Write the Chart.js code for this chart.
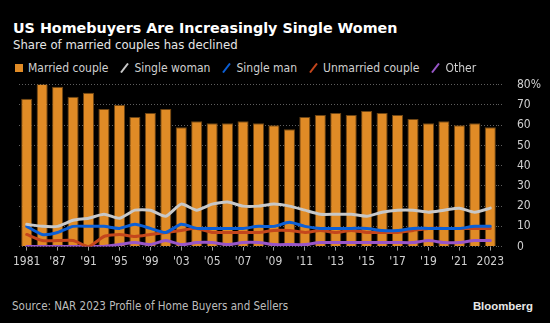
<!DOCTYPE html>
<html>
<head>
<meta charset="utf-8">
<script src="https://cdn.jsdelivr.net/npm/chart.js@4"></script>
<style>
  body { margin: 0; background: #000; width: 550px; height: 323px; position: relative; overflow: hidden; }
  .txt { position: absolute; white-space: nowrap; line-height: 1; }
  #title { left: 13px; top: 19.6px; font: bold 14.3px 'DejaVu Sans', sans-serif; color: #fff; }
  #subtitle { left: 13px; top: 36.7px; font: 13px 'DejaVu Sans Condensed', 'DejaVu Sans', sans-serif; color: #e6e6e6; }
  #legend { position: absolute; left: 15px; top: 62px; display: flex; align-items: center;
            font: 12px 'DejaVu Sans Condensed', 'DejaVu Sans', sans-serif; color: #d0d0d0; line-height: 12px; }
  #legend .item { display: flex; align-items: center; margin-right: 12px; }
  #legend .box { width: 8px; height: 8px; margin-right: 5px; }
  #legend canvas { margin-right: 5px; }
  #source { left: 12px; top: 299px; font: 11.5px 'DejaVu Sans Condensed', 'DejaVu Sans', sans-serif; color: #bdbdbd; }
  #brand { right: 17px; top: 299.5px; font: bold 11.4px 'Liberation Sans', Arial, sans-serif; color: #e8e8e8; }
  #wrap { position: absolute; left: 0; top: 76px; width: 550px; height: 197px; }
</style>
</head>
<body>
<div id="title" class="txt">US Homebuyers Are Increasingly Single Women</div>
<div id="subtitle" class="txt">Share of married couples has declined</div>
<div id="legend"></div>
<div id="wrap"><canvas id="chart" width="550" height="197"></canvas></div>
<div id="source" class="txt">Source: NAR 2023 Profile of Home Buyers and Sellers</div>
<div id="brand" class="txt">Bloomberg</div>

<script>
// survey years (before 2003 the survey was not yearly)
var years = ['1981', '1985', '1987', '1989', '1991', '1993', '1995', '1997', '1999', '2001',
             '2003', '2004', '2005', '2006', '2007', '2008', '2009', '2010', '2011', '2012',
             '2013', '2014', '2015', '2016', '2017', '2018', '2019', '2020', '2021', '2022', '2023'];

// shares in %
var marriedCouple   = [73, 81, 79, 74, 76, 68, 70, 64, 66, 68, 59, 62, 61, 61, 62, 61, 60, 58, 64, 65, 66, 65, 67, 66, 65, 63, 61, 62, 60, 61, 59];
var singleWoman     = [11, 10, 10, 13, 14, 16, 14, 18, 18, 15, 21, 18, 21, 22, 20, 20, 21, 20, 18, 16, 16, 16, 15, 17, 18, 18, 17, 18, 19, 17, 19];
var singleMan       = [10, 6, 7, 10, 10, 10, 9, 11, 9, 7, 11, 9, 9, 9, 9, 10, 10, 12, 10, 9, 9, 9, 9, 8, 8, 9, 9, 9, 9, 10, 10];
var unmarriedCouple = [6, 3, 3, 3, 0, 5, 6, 5, 6, 7, 8, 9, 7, 7, 7, 7, 8, 8, 7, 8, 7, 8, 7, 7, 7, 8, 9, 9, 9, 9, 9];
var other           = [0, 0, 0, 0, 0, 0, 1, 2, 1, 3, 1, 2, 2, 1, 2, 2, 1, 1, 1, 2, 2, 2, 2, 2, 2, 2, 3, 2, 2, 3, 3];

var yTicks = [0, 10, 20, 30, 40, 50, 60, 70, 80];

var FONT = "'DejaVu Sans Condensed', 'DejaVu Sans', sans-serif";

function lineSet(label, data, color, order) {
    return {
        type: 'line',
        label: label,
        data: data,
        borderColor: color,
        backgroundColor: color,
        borderWidth: 3,
        pointRadius: 0,
        tension: 0.2,
        borderJoinStyle: 'round',
        borderCapStyle: 'round',
        order: order
    };
}

var datasets = [
    {
        type: 'bar',
        label: 'Married couple',
        data: marriedCouple,
        backgroundColor: '#e08b26',
        borderColor: '#6e4514',
        borderWidth: 1,
        barPercentage: 0.72,
        categoryPercentage: 1,
        order: 10
    },
    lineSet('Single woman', singleWoman, '#c8c8c8', 1),
    lineSet('Single man', singleMan, '#0b5fd6', 2),
    lineSet('Unmarried couple', unmarriedCouple, '#c4461c', 3),
    lineSet('Other', other, '#9856c8', 4)
];

// legend
var legend = document.getElementById('legend');
datasets.forEach(function(ds) {
    var item = document.createElement('div');
    item.className = 'item';
    if (ds.type === 'bar') {
        var box = document.createElement('span');
        box.className = 'box';
        box.style.background = ds.backgroundColor;
        item.appendChild(box);
    } else {
        var c = document.createElement('canvas');
        c.width = 9;
        c.height = 10;
        var ctx = c.getContext('2d');
        ctx.strokeStyle = ds.borderColor;
        ctx.lineWidth = 2;
        ctx.beginPath();
        ctx.moveTo(1, 9.5);
        ctx.lineTo(8, 0.5);
        ctx.stroke();
        item.appendChild(c);
    }
    var span = document.createElement('span');
    span.textContent = ds.label;
    item.appendChild(span);
    legend.appendChild(item);
});

function shortYear(i) {
    if (i % 2 !== 0) return '';
    if (i === 0 || i === years.length - 1) return years[i];
    return "'" + years[i].slice(2);
}

new Chart(document.getElementById('chart'), {
    data: {
        labels: years,
        datasets: datasets
    },
    options: {
        responsive: false,
        animation: false,
        layout: {
            padding: { left: 19, right: 9, top: 8.7, bottom: 0 }
        },
        plugins: {
            legend: { display: false },
            tooltip: { enabled: false }
        },
        scales: {
            x: {
                grid: {
                    offset: false,
                    drawOnChartArea: false,
                    tickLength: 4,
                    color: function(ctx) {
                        return ctx.index % 2 === 0 ? '#9a9a9a' : 'rgba(0,0,0,0)';
                    }
                },
                border: { display: false },
                ticks: {
                    autoSkip: false,
                    maxRotation: 0,
                    padding: 4,
                    color: '#d0d0d0',
                    font: { family: FONT, size: 12 },
                    callback: function(value, index) {
                        return shortYear(index);
                    }
                }
            },
            y: {
                position: 'right',
                min: yTicks[0],
                max: yTicks[yTicks.length - 1],
                afterBuildTicks: function(scale) {
                    scale.ticks = yTicks.map(function(v) { return { value: v }; });
                },
                afterFit: function(scale) {
                    // labels sit 15px off the tick, no extra space behind them
                    scale.width = 43;
                    scale.paddingTop = 0;
                    scale.paddingBottom = 0;
                },
                grid: {
                    color: '#5e5e5e',
                    lineWidth: 1,
                    tickLength: 4,
                    borderDash: [1, 2],
                    tickBorderDash: [1, 2]
                },
                border: { display: false, dash: [1, 2] },
                ticks: {
                    padding: 15,
                    crossAlign: 'near',
                    color: '#d0d0d0',
                    font: { family: FONT, size: 12 },
                    callback: function(value) {
                        return value === 80 ? '80%' : value;
                    }
                }
            }
        }
    }
});
</script>
</body>
</html>
